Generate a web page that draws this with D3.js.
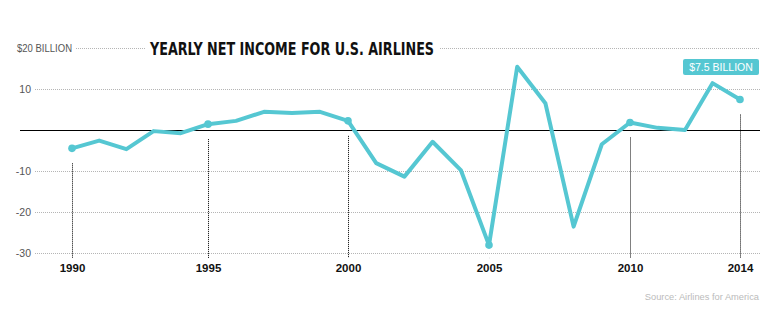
<!DOCTYPE html>
<html>
<head>
<meta charset="utf-8">
<script src="https://cdn.jsdelivr.net/npm/d3@7/dist/d3.min.js"></script>
<style>
  html, body { margin: 0; padding: 0; background: #fff; }
  svg { display: block; }
</style>
</head>
<body>
<svg id="chart" width="780" height="330"></svg>
<script>
const years = [1990,1991,1992,1993,1994,1995,1996,1997,1998,1999,2000,2001,2002,2003,2004,2005,2006,2007,2008,2009,2010,2011,2012,2013,2014];
const netIncome = [-4.4,-2.5,-4.6,-0.2,-0.7,1.5,2.3,4.5,4.2,4.5,2.3,-8.0,-11.3,-2.8,-9.7,-28.0,15.5,6.6,-23.5,-3.4,1.9,0.6,0.1,11.5,7.5];
const yTickValues = [20,10,-10,-20,-30];
const xTickYears = [1990,1995,2000,2005,2010,2014];
const titleText = "YEARLY NET INCOME FOR U.S. AIRLINES";
const calloutText = "$7.5 BILLION";
const sourceText = "Source: Airlines for America";

const teal = "#55C7D2";
const svg = d3.select("#chart");

const x = d3.scaleLinear().domain(xTickYears).range([72, 208, 348, 489, 630, 740]);
const y = d3.scaleLinear().domain([-30, 20]).range([253.3, 48.3]);

const data = years.map((yr, i) => ({year: yr, value: netIncome[i]}));

// gridlines
const grid = svg.append("g");
yTickValues.forEach(v => {
  if (v === 20) {
    [[76,145],[440,760]].forEach(([a,b]) => {
      grid.append("line").attr("x1", a).attr("x2", b)
        .attr("y1", Math.round(y(v)) + 0.5).attr("y2", Math.round(y(v)) + 0.5)
        .attr("stroke", "#b5b5b5").attr("stroke-dasharray", "1,1");
    });
  } else {
    grid.append("line").attr("x1", 35).attr("x2", 760)
      .attr("y1", Math.round(y(v)) + 0.5).attr("y2", Math.round(y(v)) + 0.5)
      .attr("stroke", "#b5b5b5").attr("stroke-dasharray", "1,1");
  }
});

// zero line
svg.append("line").attr("x1", 20).attr("x2", 760)
  .attr("y1", Math.round(y(0)) + 0.5).attr("y2", Math.round(y(0)) + 0.5)
  .attr("stroke", "#000").attr("stroke-width", 1);

// y axis labels
const yAxis = d3.axisLeft(y).tickValues(yTickValues).tickSize(0).tickPadding(0)
  .tickFormat(d => d === 20 ? "$20 BILLION" : String(d));
const yg = svg.append("g").attr("transform", "translate(31,0)").call(yAxis);
yg.select(".domain").remove();
yg.selectAll("text")
  .attr("font-family", "'Liberation Sans', Arial, sans-serif")
  .attr("font-size", 10.5)
  .attr("fill", "#555")
  .attr("dy", "0.35em");
yg.selectAll(".tick").filter(d => d === 20).select("text")
  .attr("text-anchor", "start").attr("x", -14)
  .attr("textLength", 55).attr("lengthAdjust", "spacingAndGlyphs");

// vertical dotted lines
const tickData = data.filter(d => xTickYears.includes(d.year));
svg.append("g").selectAll("line").data(tickData).join("line")
  .attr("x1", d => Math.round(x(d.year)) + 0.5)
  .attr("x2", d => Math.round(x(d.year)) + 0.5)
  .attr("y1", d => Math.min(y(d.value) + 15, 258))
  .attr("y2", 258)
  .attr("stroke", "#000").attr("stroke-dasharray", "1,1");

// x axis labels
const xAxis = d3.axisBottom(x).tickValues(xTickYears).tickSize(0).tickPadding(0)
  .tickFormat(d3.format("d"));
const xg = svg.append("g").attr("transform", "translate(0,264)").call(xAxis);
xg.select(".domain").remove();
xg.selectAll("text")
  .attr("font-family", "'Liberation Sans', Arial, sans-serif")
  .attr("font-size", 11.5)
  .attr("font-weight", "bold")
  .attr("fill", "#111")
  .attr("dy", "0.71em");

// title
svg.append("text").attr("x", 150).attr("y", 55)
  .attr("font-family", "'Liberation Sans Narrow', 'DejaVu Sans Condensed', 'Arial Narrow', sans-serif")
  .attr("font-weight", "bold").attr("font-size", 17.5)
  .attr("fill", "#111")
  .attr("textLength", 284).attr("lengthAdjust", "spacingAndGlyphs")
  .text(titleText);

// line
const line = d3.line().x(d => x(d.year)).y(d => y(d.value));
svg.append("path").datum(data)
  .attr("d", line)
  .attr("fill", "none")
  .attr("stroke", teal)
  .attr("stroke-width", 4)
  .attr("stroke-linejoin", "round")
  .attr("stroke-linecap", "round");

svg.append("g").selectAll("circle").data(tickData).join("circle")
  .attr("cx", d => x(d.year)).attr("cy", d => y(d.value))
  .attr("r", 3.8).attr("fill", teal);

// callout
const cg = svg.append("g");
cg.append("rect").attr("x", 683).attr("y", 59).attr("width", 76).attr("height", 16)
  .attr("rx", 2).attr("fill", teal);
cg.append("text").attr("x", 721).attr("y", 71)
  .attr("text-anchor", "middle")
  .attr("font-family", "'Liberation Sans', Arial, sans-serif")
  .attr("font-size", 10.5).attr("fill", "#fff")
  .text(calloutText);

// source
svg.append("text").attr("x", 759).attr("y", 300)
  .attr("text-anchor", "end")
  .attr("font-family", "'Liberation Sans', Arial, sans-serif")
  .attr("font-size", 9.3).attr("fill", "#bbb")
  .text(sourceText);
</script>
</body>
</html>
